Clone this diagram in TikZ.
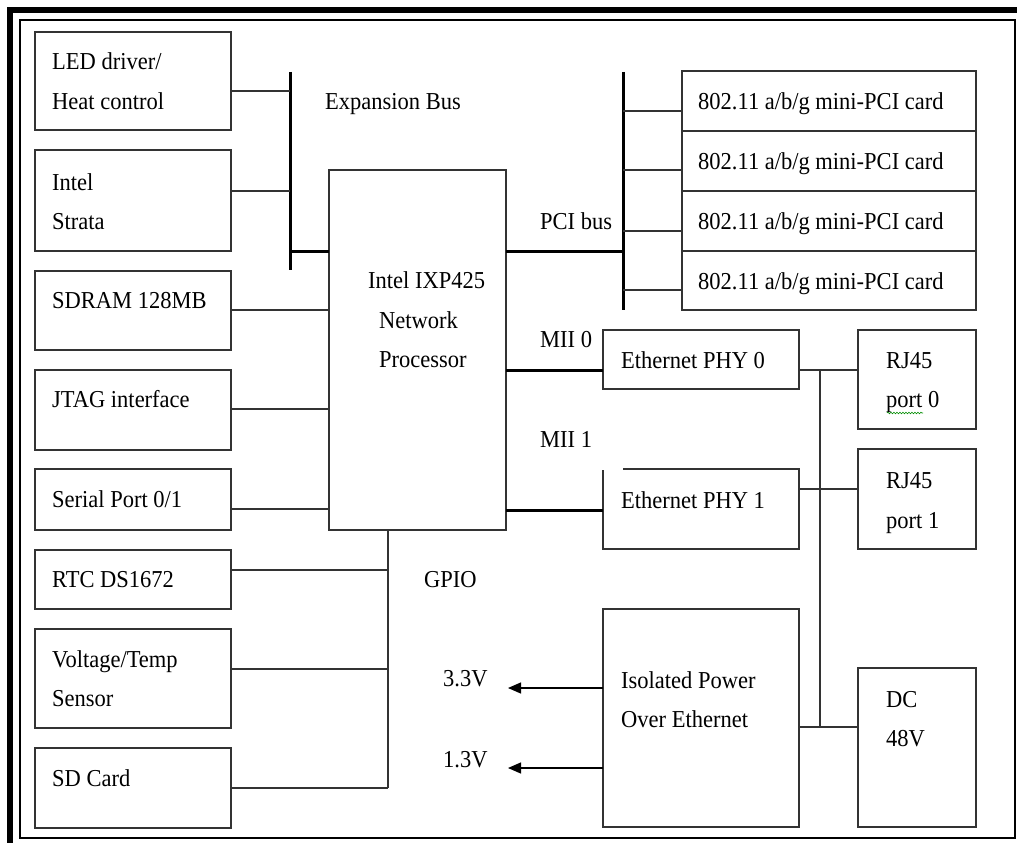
\documentclass[tikz,border=0pt]{standalone}
\usepackage{fontspec}
\setmainfont{Liberation Serif}
\usepackage{graphicx}
\usetikzlibrary{arrows.meta,decorations.pathmorphing}
\newcommand{\tx}[1]{\scalebox{1}[1.08]{#1}}
\definecolor{linegray}{HTML}{333333}
\tikzset{
  box/.style={draw=linegray, line width=1.3pt, rectangle, inner sep=0pt, outer sep=0pt, anchor=north west},
  lbl/.style={anchor=base west, inner sep=0pt, font=\fontsize{22.5}{27}\selectfont},
  conn/.style={draw=linegray, line width=1.3pt},
  busline/.style={draw=black, line width=3pt},
  arr/.style={draw=black, line width=1.3pt, -{Triangle[length=13pt,width=11pt]}}
}
\begin{document}
\begin{tikzpicture}[x=1pt,y=-1pt]
\useasboundingbox (0,0) rectangle (1017,843);
% frame
\fill[black] (7,7) rectangle (1017,13);
\fill[black] (7,7) rectangle (13,843);
\draw[black, line width=1.5pt] (20,20) rectangle (1015,838);

% left column boxes
\node[box, minimum width=196pt, minimum height=98pt] (led) at (35,32) {};
\node[box, minimum width=196pt, minimum height=101pt] (strata) at (35,150) {};
\node[box, minimum width=196pt, minimum height=79pt] (sdram) at (35,271) {};
\node[box, minimum width=196pt, minimum height=80pt] (jtag) at (35,370) {};
\node[box, minimum width=196pt, minimum height=61pt] (serial) at (35,469) {};
\node[box, minimum width=196pt, minimum height=59pt] (rtc) at (35,550) {};
\node[box, minimum width=196pt, minimum height=99pt] (volt) at (35,629) {};
\node[box, minimum width=196pt, minimum height=80pt] (sd) at (35,748) {};

% processor
\node[box, minimum width=177pt, minimum height=360pt] (proc) at (329,170) {};

% mini-PCI cards
\node[box, minimum width=294pt, minimum height=60pt] (pci1) at (682,71) {};
\node[box, minimum width=294pt, minimum height=60pt] (pci2) at (682,131) {};
\node[box, minimum width=294pt, minimum height=60pt] (pci3) at (682,191) {};
\node[box, minimum width=294pt, minimum height=59pt] (pci4) at (682,251) {};

% ethernet / power
\node[box, minimum width=196pt, minimum height=59pt] (phy0) at (603,330) {};
\node[box, draw=none, minimum width=196pt, minimum height=80pt] (phy1) at (603,469) {};
\draw[conn] ([xshift=20pt]phy1.north west) -- (phy1.north east) -- (phy1.south east) -- (phy1.south west) -- ([yshift=-1pt]phy1.north west);
\node[box, minimum width=118pt, minimum height=99pt] (rj0) at (858,330) {};
\node[box, minimum width=118pt, minimum height=100pt] (rj1) at (858,449) {};
\node[box, minimum width=196pt, minimum height=218pt] (poe) at (603,609) {};
\node[box, minimum width=118pt, minimum height=159pt] (dc) at (858,668) {};

% bus coordinates
\coordinate (ebtop) at (290,72);
\coordinate (ebbot) at (290,270);
\coordinate (pcitop) at (623,72);
\coordinate (pcibot) at (623,310);
\coordinate (gpiobot) at (388,788);
\coordinate (pwrtop) at (820,370);
\coordinate (pwrbot) at (820,727);
\coordinate (a33) at (508,688);
\coordinate (a13) at (508,768);

% expansion bus
\draw[busline] (ebtop) -- (ebbot);
\draw[conn] (led.east |- 0,91) -- (ebtop |- 0,91);
\draw[conn] (strata.east |- 0,191) -- (ebtop |- 0,191);
\draw[busline] (ebtop |- 0,251) -- (proc.west |- 0,251);

% direct connections to processor
\draw[conn] (sdram.east |- 0,310) -- (proc.west |- 0,310);
\draw[conn] (jtag.east |- 0,409) -- (proc.west |- 0,409);
\draw[conn] (serial.east |- 0,509) -- (proc.west |- 0,509);

% GPIO
\draw[conn] (gpiobot |- proc.south) -- (gpiobot);
\draw[conn] (rtc.east |- 0,570) -- (gpiobot |- 0,570);
\draw[conn] (volt.east |- 0,669) -- (gpiobot |- 0,669);
\draw[conn] (sd.east |- 0,788) -- (gpiobot);

% PCI bus
\draw[busline] (proc.east |- 0,251) -- (pcitop |- 0,251);
\draw[busline] (pcitop) -- (pcibot);
\draw[conn] (pcitop |- 0,111) -- (pci1.west |- 0,111);
\draw[conn] (pcitop |- 0,170) -- (pci2.west |- 0,170);
\draw[conn] (pcitop |- 0,231) -- (pci3.west |- 0,231);
\draw[conn] (pcitop |- 0,290) -- (pci4.west |- 0,290);

% MII
\draw[busline] (proc.east |- 0,370) -- (phy0.west |- 0,370);
\draw[busline] (proc.east |- 0,510) -- (phy1.west |- 0,510);

% power / RJ45 wiring
\draw[conn] (pwrtop) -- (pwrbot);
\draw[conn] (phy0.east |- pwrtop) -- (rj0.west |- pwrtop);
\draw[conn] (phy1.east |- 0,489) -- (rj1.west |- 0,489);
\draw[conn] (poe.east |- pwrbot) -- (dc.west |- pwrbot);

% voltage outputs
\draw[arr] (poe.west |- a33) -- (a33);
\draw[arr] (poe.west |- a13) -- (a13);

% texts
\node[lbl] at (52,70) {\tx{LED driver/}};
\node[lbl] at (52,109) {\tx{Heat control}};
\node[lbl] at (52,190) {\tx{Intel}};
\node[lbl] at (52,229) {\tx{Strata}};
\node[lbl] at (52,308) {\tx{SDRAM 128MB}};
\node[lbl] at (52,407) {\tx{JTAG interface}};
\node[lbl] at (52,507) {\tx{Serial Port 0/1}};
\node[lbl] at (52,587) {\tx{RTC DS1672}};
\node[lbl] at (52,667) {\tx{Voltage/Temp}};
\node[lbl] at (52,706) {\tx{Sensor}};
\node[lbl] at (52,786) {\tx{SD Card}};

\node[lbl] at (325,109) {\tx{Expansion Bus}};
\node[lbl] at (368,288) {\tx{Intel IXP425}};
\node[lbl] at (379,328) {\tx{Network}};
\node[lbl] at (379,367) {\tx{Processor}};

\node[lbl] at (540,229) {\tx{PCI bus}};
\node[lbl] at (698,109) {\tx{802.11 a/b/g mini-PCI card}};
\node[lbl] at (698,169) {\tx{802.11 a/b/g mini-PCI card}};
\node[lbl] at (698,229) {\tx{802.11 a/b/g mini-PCI card}};
\node[lbl] at (698,289) {\tx{802.11 a/b/g mini-PCI card}};

\node[lbl] at (540,347) {\tx{MII 0}};
\node[lbl] at (540,447) {\tx{MII 1}};
\node[lbl] at (621,368) {\tx{Ethernet PHY 0}};
\node[lbl] at (621,508) {\tx{Ethernet PHY 1}};
\node[lbl] at (886,368) {\tx{RJ45}};
\node[lbl] at (886,407) {\tx{port 0}};
\node[lbl] at (886,488) {\tx{RJ45}};
\node[lbl] at (886,528) {\tx{port 1}};
\draw[green!55!black, line width=0.6pt, decorate, decoration={snake, amplitude=0.8pt, segment length=3pt}] (887,413) -- (923,413);

\node[lbl] at (424,587) {\tx{GPIO}};
\node[lbl] at (443,686) {\tx{3.3V}};
\node[lbl] at (443,767) {\tx{1.3V}};
\node[lbl] at (621,688) {\tx{Isolated Power}};
\node[lbl] at (621,727) {\tx{Over Ethernet}};
\node[lbl] at (886,707) {\tx{DC}};
\node[lbl] at (886,746) {\tx{48V}};
\end{tikzpicture}
\end{document}
